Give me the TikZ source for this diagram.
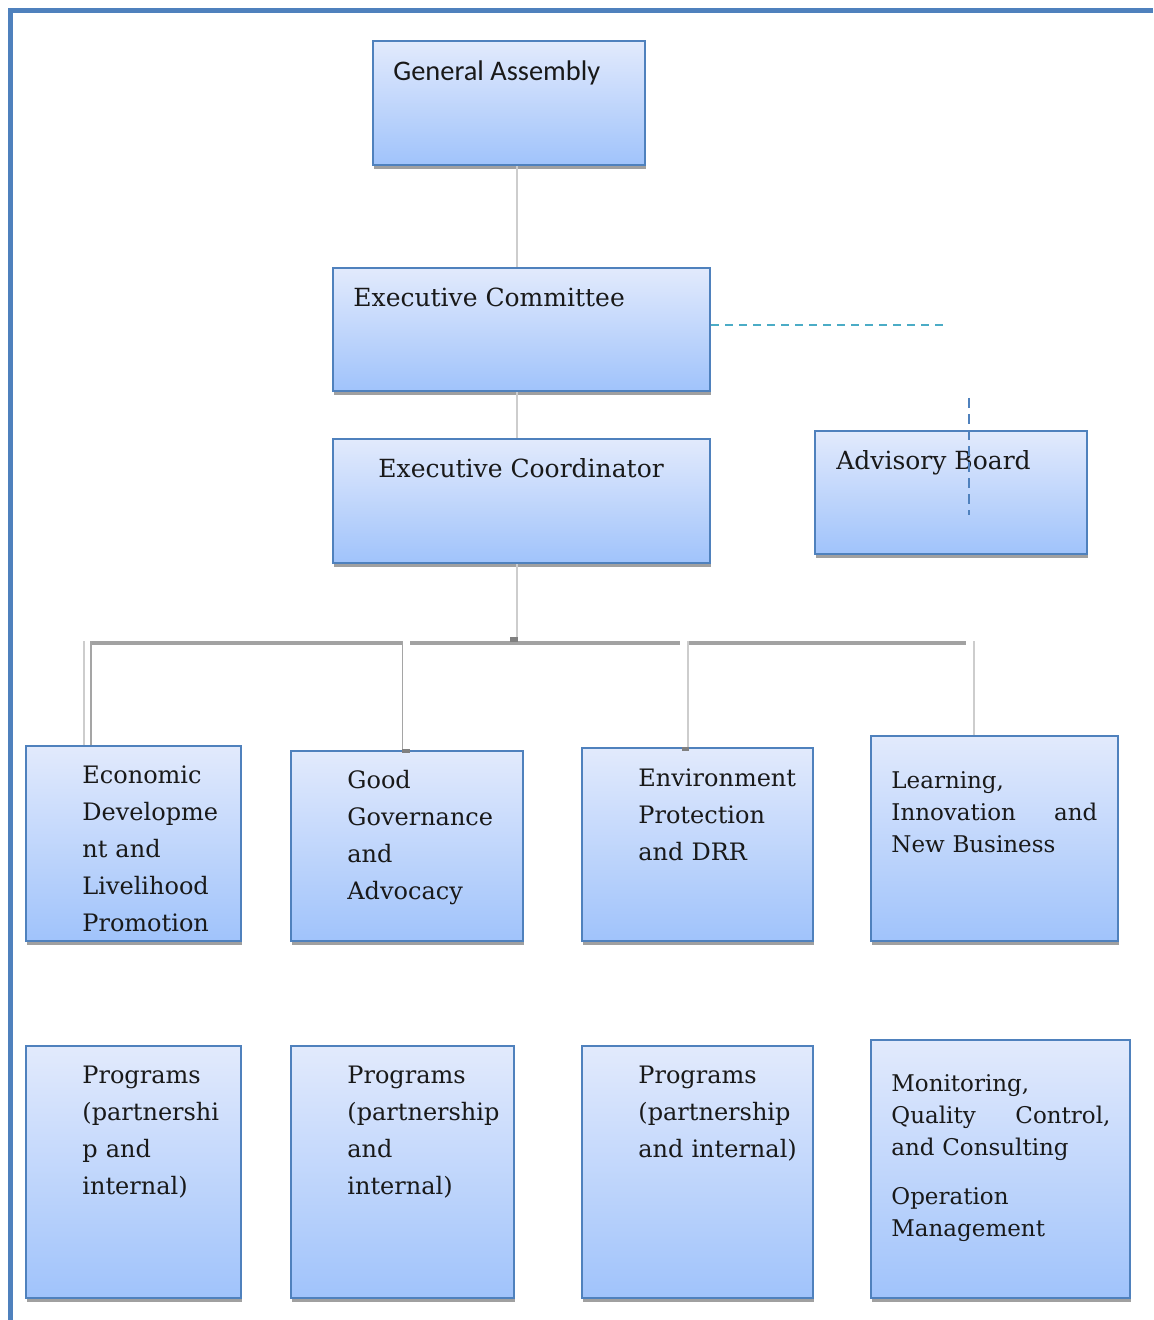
\documentclass[tikz,border=0pt]{standalone}
\usepackage{fontspec}
\setmainfont{DejaVu Serif}
\newfontfamily\gafont{Carlito}
\usetikzlibrary{shadows}
\definecolor{boxline}{RGB}{79,129,189}
\definecolor{boxtop}{RGB}{226,234,252}
\definecolor{boxbot}{RGB}{160,195,251}
\definecolor{shadowgray}{RGB}{160,160,160}
\definecolor{connlight}{RGB}{205,205,205}
\definecolor{conngray}{RGB}{165,165,165}
\definecolor{bargray}{RGB}{162,162,162}
\definecolor{sqgray}{RGB}{128,128,128}
\definecolor{dashteal}{RGB}{75,172,198}
\definecolor{textcol}{RGB}{25,25,25}
\tikzset{
  orgnode/.style={draw=boxline, line width=1pt, top color=boxtop, bottom color=boxbot,
    inner sep=0pt, general shadow={fill=shadowgray, shadow xshift=0.5pt, shadow yshift=-2pt}},
  conn/.style={draw=connlight, line width=0.6pt},
  conndark/.style={draw=conngray, line width=0.6pt},
  barline/.style={draw=bargray, line width=2pt},
  sq/.style={fill=sqgray},
  headtxt/.style={anchor=base west, inner sep=0pt, text=textcol, font=\fontsize{12.5}{15}\selectfont},
  bodytxt/.style={anchor=base west, inner sep=0pt, text=textcol, align=left, text width=#1,
    font=\fontsize{12}{18.5}\selectfont},
  smalltxt/.style={anchor=base west, inner sep=0pt, text=textcol, align=left, text width=#1,
    font=\fontsize{11.5}{16}\selectfont}
}
\newcommand\orgbox[5]{\node[orgnode, minimum width={(#4-#2)*0.5pt}, minimum height={(#5-#3)*0.5pt}] (#1) at ({(#2+#4)/2},{(#3+#5)/2}) {};}
\begin{document}
\begin{tikzpicture}[x=0.5pt,y=-0.5pt]
\useasboundingbox (0,0) rectangle (1153,1320);
% frame
\draw[boxline, line width=2.5pt] (10,1320) -- (10,10.5) -- (1153,10.5);

% boxes
\orgbox{ga}{373}{41}{645}{165}
\orgbox{ec}{333}{268}{710}{391}
\orgbox{co}{333}{439}{710}{563}
\orgbox{ab}{815}{431}{1087}{554}
\orgbox{e1}{26}{746}{241}{941}
\orgbox{g1}{291}{751}{523}{941}
\orgbox{v1}{582}{748}{813}{941}
\orgbox{l1}{871}{736}{1118}{941}
\orgbox{e2}{26}{1046}{241}{1298}
\orgbox{g2}{291}{1046}{514}{1298}
\orgbox{v2}{582}{1046}{813}{1298}
\orgbox{l2}{871}{1040}{1130}{1298}

% connectors
\coordinate (trunk) at (517,638);
\draw[conn] (ga.south -| trunk) -- (ec.north -| trunk);
\draw[conn] (ec.south -| trunk) -- (co.north -| trunk);
\draw[conn] (co.south -| trunk) -- (trunk);
\coordinate (b1) at (92,643);
\coordinate (b2) at (402,643);
\coordinate (b3) at (410,643);
\coordinate (b4) at (680,643);
\coordinate (b5) at (689,643);
\coordinate (b6) at (966,643);
\draw[barline] (b1) -- (b2);
\draw[barline] (b3) -- (b4);
\draw[barline] (b5) -- (b6);
\coordinate (d1) at (84,641);
\coordinate (d2) at (91,641);
\coordinate (d3) at (402.5,641);
\coordinate (d4) at (688,641);
\coordinate (d5) at (974,641);
\draw[conn] (d1) -- (d1 |- e1.north);
\draw[conndark] (d2) -- (d2 |- e1.north);
\draw[conndark] (d3) -- (d3 |- g1.north);
\draw[conn] (d4) -- (d4 |- v1.north);
\draw[conn] (d5) -- (d5 |- l1.north);
\fill[sq] (510,637) rectangle (518,642);
\fill[sq] (402,749) rectangle (410,753);
\fill[sq] (682,747) rectangle (689,751);

% dashed links
\coordinate (dashEnd) at (946,325);
\draw[dashteal, line width=1pt, dash pattern=on 4pt off 3pt] (ec.east |- dashEnd) -- (dashEnd);
\coordinate (abTop) at (969,398);
\coordinate (abBot) at (969,515);

% texts
\node[anchor=base west, inner sep=0pt, text=textcol, font=\gafont\fontsize{14.2}{16}\selectfont] (t-ga) at (393,81) {General Assembly};
\node[headtxt] (t-ec) at (353,307) {Executive Committee};
\node[headtxt] (t-co) at (378,477) {Executive Coordinator};
\node[headtxt] (t-ab) at (836,469) {Advisory Board};
\draw[boxline, line width=1pt, dash pattern=on 5pt off 3pt] (abTop) -- (abBot);

\node[bodytxt=140pt] (t-e1) at (82,783) {Economic\\Developme\\nt and\\Livelihood\\Promotion};
\node[bodytxt=140pt] (t-g1) at (347,788) {Good\\Governance\\and\\Advocacy};
\node[bodytxt=140pt] (t-v1) at (638,786) {Environment\\Protection\\and DRR};
\node[smalltxt=140pt] (t-l1) at (891,788) {Learning,\\\makebox[103pt][l]{Innovation\hfill and}\\New Business};

\node[bodytxt=140pt] (t-e2) at (82,1083) {Programs\\(partnershi\\p and\\internal)};
\node[bodytxt=140pt] (t-g2) at (347,1083) {Programs\\(partnership\\and\\internal)};
\node[bodytxt=140pt] (t-v2) at (638,1083) {Programs\\(partnership\\and internal)};
\node[smalltxt=140pt] (t-l2) at (891,1091) {Monitoring,\\\makebox[109.5pt][l]{Quality\hfill Control,}\\and Consulting\\[8.5pt]Operation\\Management};
\end{tikzpicture}
\end{document}
